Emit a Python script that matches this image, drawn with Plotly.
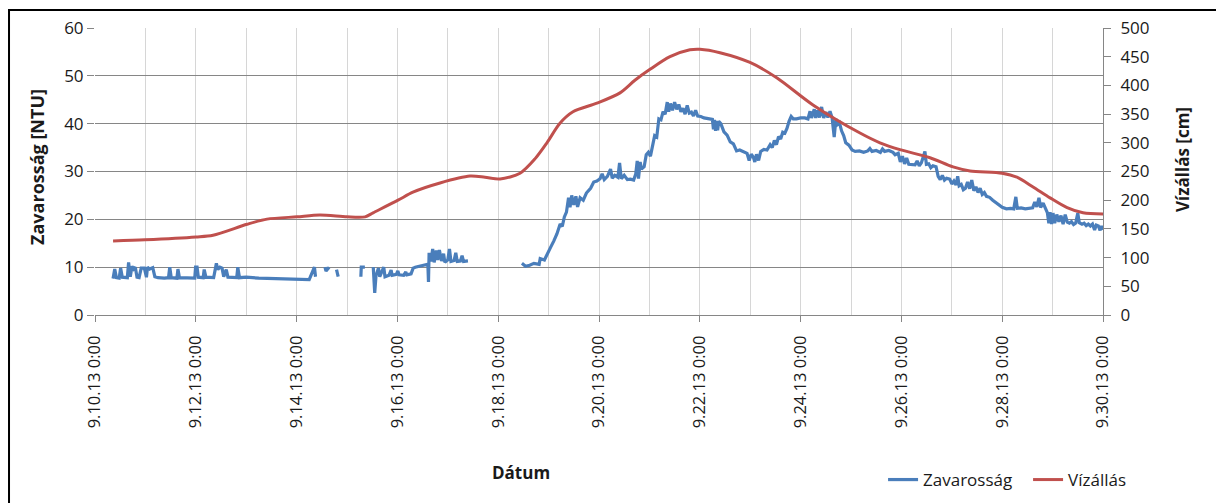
import pandas as pd
import plotly.graph_objects as go

START = pd.Timestamp("2013-09-10 00:00")

# Water level (cm) – hours since START
level_hours = [8.6, 23.8, 48.1, 56.2, 72.4, 81.9, 96.2, 107.1, 120, 128.6, 132.4, 144.3,
               151.4, 164.3, 178.6, 185.7, 192.9, 202.4, 209.5, 215.2, 221.4, 227.6, 239,
               250, 257.1, 264.3, 273.8, 283.3, 288.1, 297.6, 311.9, 324.8, 341.9, 364.3,
               373.8, 383.3, 397.6, 408.6, 416.7, 431.9, 439, 446.7, 454.8, 462.9, 470.5, 480]
level_cm = [129, 131, 136, 139, 158, 167, 171, 174, 171, 171, 178, 200,
            214, 230, 242, 240, 237, 247, 272, 300, 334, 354, 369,
            387, 409, 428, 450, 462, 463, 457, 440, 413, 366, 317,
            300, 288, 274, 258, 251, 247, 240, 223, 204, 187, 178, 176]

# Turbidity (NTU) – (hours since START, value), one list per continuous record
turb_seg1 = [(8.6, 7.6), (9.4, 9.6), (10.2, 7.8), (11.5, 7.7), (12.2, 9.8), (13.0, 7.9),
             (15.4, 7.8), (16.0, 11.0), (16.8, 8.0), (17.6, 10.2), (18.4, 9.6), (19.2, 10.0),
             (20.0, 7.9), (21.0, 7.8), (22.0, 9.8), (23.5, 9.8), (24.5, 7.9), (25.0, 10.0),
             (26.0, 9.6), (27.5, 9.9), (28.5, 8.0), (30, 7.8), (33, 7.7), (35.0, 7.8),
             (35.6, 10.0), (36.3, 7.8), (39.0, 7.7), (39.5, 9.6), (40.2, 7.8), (44, 7.8),
             (47.5, 7.7), (47.9, 10.0), (48.6, 10.0), (49.2, 7.9), (51.5, 7.8), (52.0, 9.5),
             (52.8, 7.9), (56.5, 7.8), (57.8, 10.8), (58.5, 9.5), (59.5, 10.0), (60.5, 9.8),
             (61.3, 8.0), (62.5, 9.5), (63.3, 7.9), (67.5, 7.8), (68.0, 10.0), (68.8, 7.8),
             (72, 7.9), (78, 7.7), (84, 7.6), (90, 7.6), (96, 7.4), (100, 7.3), (102, 7.4),
             (104.5, 10.0), (105.0, 8.0)]
turb_seg2 = [(109.5, 10.0), (110.0, 9.2), (111.5, 10.0)]
turb_seg3 = [(115.0, 9.5), (115.8, 8.0)]
turb_seg4 = [(126.6, 8.0), (126.8, 10.0), (128.5, 10.0)]
turb_seg5 = [(132.5, 10.0), (133.2, 4.6), (133.8, 8.2), (135, 9.8), (135.6, 8.0), (137.5, 10.0),
             (138.1, 8.0), (140, 8.3), (141, 9.4), (141.5, 8.3), (143.5, 8.5), (144.2, 9.2),
             (144.8, 8.4), (147, 8.3), (148, 9.0), (148.5, 8.4), (150.5, 8.6), (151.5, 9.8),
             (152.5, 10.0), (155, 10.2), (157, 10.5), (158.5, 10.6), (158.8, 6.9), (159.1, 13.0),
             (160, 11.2), (160.8, 13.8), (161.5, 11.0), (162.5, 13.5), (163.2, 11.5), (164.0, 13.6),
             (165, 11.3), (166, 12.8), (166.6, 11.0), (168, 11.5), (168.8, 13.8), (169.5, 11.2),
             (171, 11.4), (171.8, 13.0), (172.5, 11.2), (174, 11.3), (174.8, 12.4), (175.5, 11.2),
             (177.6, 11.3)]
turb_seg6 = [(203.3, 10.8), (205, 10.2), (207, 10.4), (209, 10.8), (211.5, 10.6), (212, 11.8),
             (214.0, 11.5), (215.5, 13.0), (217, 14.2), (218.5, 15.5), (220, 17.0), (221.5, 19.0),
             (222.5, 18.5), (223.5, 20.5), (224.5, 21.5), (225.5, 24.5), (226.2, 22.5), (227, 25.0),
             (228, 23.0), (229, 24.8), (229.8, 22.6), (231, 24.5), (232.5, 24.0), (234, 25.5),
             (236, 26.5), (237.5, 27.8), (239, 28.0), (240.5, 28.5), (241.5, 29.5), (242.5, 28.3),
             (244, 29.0), (245.5, 30.5), (246.3, 28.6), (247.5, 29.2), (249, 28.8), (249.8, 31.8),
             (250.6, 28.5), (252, 29.2), (253.5, 28.3), (255, 28.4), (256.5, 28.2), (257.5, 29.5),
             (258.2, 32.2), (258.8, 28.5), (259.6, 32.0), (260.2, 30.5), (261.5, 31.0), (262.5, 33.5),
             (263.5, 34.0), (264.5, 33.2), (265.5, 35.5), (266.5, 37.5), (267.5, 37.2), (268.5, 41.0),
             (269.5, 40.8), (270.5, 42.5), (271.5, 42.0), (272.5, 44.5), (273.2, 42.5), (274.0, 44.2),
             (275, 42.8), (276, 44.5), (277, 43.0), (278, 44.0), (279, 42.5), (280, 43.2),
             (281, 42.0), (282, 43.8), (283, 42.2), (284, 42.4), (285, 41.6), (286, 42.8),
             (287, 41.6), (288.5, 41.5), (290, 41.2), (292, 41.0), (294, 40.9), (294.5, 38.8),
             (295, 40.8), (295.5, 38.5), (296, 40.6), (296.5, 38.6), (297, 40.5), (298, 40.0),
             (299.5, 38.3), (301, 37.6), (302.5, 36.2), (304, 35.8), (305.5, 34.3), (307, 34.5),
             (309, 34.0), (310.5, 33.8), (311.5, 32.3), (312.5, 33.6), (313.5, 33.0), (314.2, 32.0),
             (315, 33.6), (316, 32.3), (317, 34.2), (318.5, 34.6), (320, 34.5), (321.5, 35.6),
             (322.5, 35.0), (323.5, 36.5), (324.5, 35.6), (325.5, 37.3), (326.5, 36.8), (327.5, 38.2),
             (328.5, 38.0), (329.5, 39.0), (330.5, 40.5), (331.5, 41.5), (332.5, 41.0), (334, 41.0),
             (336, 41.2), (338, 41.2), (339.5, 41.0), (340.5, 42.6), (341.2, 41.2), (342.5, 43.0),
             (343.2, 41.2), (344, 42.8), (345, 41.3), (346, 43.5), (347, 41.2), (348, 42.4),
             (349, 41.3), (350, 42.6), (351, 41.2), (352, 37.2), (352.8, 41.0), (353.5, 39.8),
             (354.5, 40.2), (355.5, 38.5), (356.5, 37.5), (357.5, 36.0), (359, 35.5), (360.5, 34.5),
             (362, 34.2), (364, 34.3), (366, 34.0), (368, 34.3), (369, 34.8), (370, 34.2),
             (372, 34.4), (374, 34.0), (375, 34.7), (376, 34.2), (378, 34.4), (380, 34.0),
             (381, 33.5), (382.5, 33.8), (383.5, 32.0), (384.5, 33.2), (385.5, 31.6), (386.5, 32.8),
             (387.5, 31.5), (389, 31.5), (390.5, 31.4), (391.5, 32.2), (392.5, 31.2), (393.5, 31.8),
             (394.5, 33.6), (395.2, 34.2), (395.9, 31.5), (397, 31.6), (398, 30.8), (399, 31.2),
             (400.5, 31.0), (401.5, 29.0), (402.5, 28.3), (403.5, 29.2), (404.5, 28.2), (405.5, 28.6),
             (407, 28.4), (408, 27.4), (409, 28.0), (410, 27.2), (410.8, 29.0), (411.5, 27.0),
             (412.5, 27.3), (413.5, 26.2), (414.5, 26.5), (415.5, 27.8), (416.5, 26.4), (417.5, 28.2),
             (418.5, 26.0), (419.5, 26.8), (420.5, 25.6), (421.5, 26.5), (422.5, 25.2), (423.5, 25.6),
             (424.5, 24.8), (426, 24.6), (427.5, 24.0), (429, 23.5), (430.5, 23.0), (432, 22.5),
             (434, 22.2), (436, 22.3), (437.5, 22.2), (438.5, 24.7), (439.2, 22.3), (441, 22.4),
             (443, 22.2), (445, 22.3), (446.5, 22.4), (447.5, 23.6), (448.5, 22.6), (449.5, 24.5),
             (450.3, 22.5), (451.5, 23.4), (452.5, 22.4), (453.5, 21.4), (454.2, 19.2), (454.8, 21.5),
             (455.5, 19.0), (456.2, 21.3), (457, 19.2), (458, 21.0), (459, 19.5), (460, 20.8),
             (461, 19.0), (462, 21.0), (463, 19.4), (464, 19.2), (465, 19.5), (466, 18.9),
             (467, 19.2), (468, 21.3), (468.7, 19.3), (470, 19.0), (471, 19.2), (472, 18.7),
             (473, 19.0), (474, 18.6), (475, 19.0), (476, 17.8), (476.8, 18.8), (477.8, 18.6),
             (478.6, 17.7), (479.3, 18.6), (480, 17.8)]
turbidity_segments = [turb_seg1, turb_seg2, turb_seg3, turb_seg4, turb_seg5, turb_seg6]

tick_labels = ["9.10.13 0:00", "9.12.13 0:00", "9.14.13 0:00", "9.16.13 0:00",
               "9.18.13 0:00", "9.20.13 0:00", "9.22.13 0:00", "9.24.13 0:00",
               "9.26.13 0:00", "9.28.13 0:00", "9.30.13 0:00"]


def at(hours):
    return START + pd.Timedelta(hours=hours)


turb_x, turb_y = [], []
for seg in turbidity_segments:
    for h, v in seg:
        turb_x.append(at(h))
        turb_y.append(v)
    # break the line between separate records
    turb_x.append(at(seg[-1][0] + 0.01))
    turb_y.append(None)

level_x = [at(h) for h in level_hours]
tick_vals = pd.date_range(START, periods=len(tick_labels), freq="2D")

FONT = "Open Sans"
GRID_DARK = "#868686"
GRID_LIGHT = "#d6d6d6"

fig = go.Figure()
fig.add_trace(go.Scatter(
    x=turb_x, y=turb_y, name="Zavarosság", mode="lines",
    line=dict(color="#4a7ebb", width=3.2), connectgaps=False,
))
fig.add_trace(go.Scatter(
    x=level_x, y=level_cm, name="Vízállás", mode="lines", yaxis="y2",
    line=dict(color="#c0504d", width=3, shape="spline", smoothing=0.8),
))

fig.update_layout(
    width=1216, height=503,
    margin=dict(l=95, r=113, t=28, b=188, autoexpand=False),
    paper_bgcolor="white", plot_bgcolor="white",
    font=dict(family=FONT, size=17, color="#1a1a1a"),
    showlegend=True,
    legend=dict(orientation="h", xref="container", yref="container",
                x=0.7262, y=0.0457, xanchor="left", yanchor="middle",
                font=dict(size=17), bgcolor="rgba(0,0,0,0)", itemwidth=30,
                entrywidth=100, entrywidthmode="pixels"),
    xaxis=dict(
        type="date", range=[START, START + pd.Timedelta(days=20)],
        tickmode="array", tickvals=tick_vals, ticktext=tick_labels, tickangle=-90,
        ticks="outside", ticklen=6, tickcolor=GRID_DARK, ticklabelstandoff=7,
        showgrid=True, gridcolor=GRID_LIGHT, gridwidth=1,
        minor=dict(dtick=86400000, tick0=START, showgrid=True, gridcolor=GRID_LIGHT, ticks=""),
        showline=True, linecolor=GRID_DARK, linewidth=1,
        tickfont=dict(size=16.5, color="#1a1a1a"), zeroline=False,
    ),
    yaxis=dict(
        range=[0, 60], dtick=10, tick0=0,
        ticks="outside", ticklen=7, tickcolor=GRID_DARK,
        showgrid=True, gridcolor=GRID_DARK, gridwidth=1,
        showline=False, zeroline=False,
        tickfont=dict(size=17),
    ),
    yaxis2=dict(
        range=[0, 500], dtick=50, tick0=0, overlaying="y", side="right",
        ticks="outside", ticklen=7, tickcolor=GRID_DARK, ticklabelstandoff=6,
        showgrid=False, showline=True, linecolor=GRID_DARK, linewidth=1,
        zeroline=False, tickfont=dict(size=17),
    ),
    annotations=[
        dict(text="<b>Zavarosság [NTU]</b>", xref="paper", yref="paper",
             x=-0.0575, y=0.516, textangle=-90, showarrow=False,
             font=dict(size=18), xanchor="center", yanchor="middle"),
        dict(text="<b>Vízállás [cm]</b>", xref="paper", yref="paper",
             x=1.0784, y=0.54, textangle=-90, showarrow=False,
             font=dict(size=17), xanchor="center", yanchor="middle"),
        dict(text="<b>Dátum</b>", xref="paper", yref="paper",
             x=0.4226, y=-0.5505, showarrow=False,
             font=dict(size=17), xanchor="center", yanchor="middle"),
    ],
    shapes=[
        dict(type="rect", xref="paper", yref="paper",
             x0=-0.0853, x1=1.13, y0=-0.72, y1=1.0627,
             line=dict(color="black", width=2), layer="above"),
    ],
)

fig.write_html("out.html")
